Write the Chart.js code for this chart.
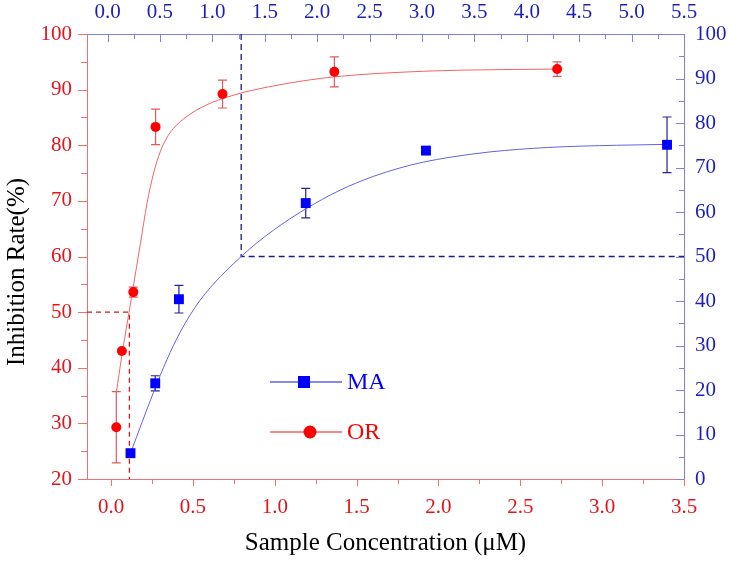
<!DOCTYPE html>
<html>
<head>
<meta charset="utf-8">
<script src="https://cdn.jsdelivr.net/npm/chart.js@4.4.1/dist/chart.umd.min.js"></script>
<style>
  html, body { margin: 0; padding: 0; background: #fff; }
  #wrap { width: 729px; height: 563px; }
</style>
</head>
<body>
<div id="wrap"><canvas id="chart"></canvas></div>
<script>
// OR: bottom (µM) / left (%) axes
const orConc = [0.032, 0.066, 0.136, 0.272, 0.681, 1.364, 2.725];
const orRate = [29.3, 43.0, 53.6, 83.3, 89.2, 93.2, 93.7];
const orErr = [6.4, 0, 0.9, 3.2, 2.5, 2.7, 1.3];

// MA: top / right axes
const maConc = [0.219, 0.455, 0.681, 1.891, 3.038, 5.338];
const maRate = [5.8, 21.5, 40.4, 62.0, 73.8, 75.1];
const maErr = [0, 1.7, 3.1, 3.3, 0, 6.25];

// fitted curves
const orFitX = [0.032, 0.065, 0.110, 0.136, 0.179, 0.220, 0.260, 0.300, 0.340, 0.380, 0.464, 0.586, 0.748, 0.850, 1.074, 1.364, 1.907, 2.375, 2.725];
const orFitY = [35.5, 42.0, 50.0, 54.6, 62.3, 69.6, 75.0, 78.8, 81.3, 83.0, 85.2, 87.3, 89.0, 89.8, 91.1, 92.3, 93.3, 93.6, 93.7];
const maFitX = [0.219, 0.439, 0.566, 0.693, 0.884, 1.275, 1.582, 1.891, 2.218, 2.536, 2.790, 3.012, 3.267, 3.648, 4.200, 4.856, 5.338];
const maFitY = [5.8, 19.5, 26.8, 33.0, 40.2, 50.0, 55.9, 60.7, 64.9, 68.0, 69.9, 71.2, 72.3, 73.5, 74.5, 75.0, 75.2];

// half-inhibition guides
const orIC50 = 0.112;
const maIC50 = 1.275;

// axes
const bottomRange = [-0.147, 3.5];
const topRange = [-0.196, 5.5];
const leftRange = [20, 100];
const rightRange = [0, 100];
const bottomTicks = [0, 0.5, 1, 1.5, 2, 2.5, 3, 3.5];
const topTicks = [0, 0.5, 1, 1.5, 2, 2.5, 3, 3.5, 4, 4.5, 5, 5.5];
const leftTicks = [20, 30, 40, 50, 60, 70, 80, 90, 100];
const rightTicks = [0, 10, 20, 30, 40, 50, 60, 70, 80, 90, 100];

const RED = '#ff0000', RED_TXT = '#e3141b', RED_AXIS = '#e87373', RED_LINE = '#f06464';
const BLUE = '#0000ff', BLUE_TXT = '#1e1eb8', BLUE_AXIS = '#8080e0', BLUE_LINE = '#6262e4';
const FONT = "'Liberation Serif', 'Times New Roman', serif";

const pts = (xs, ys) => xs.map((x, i) => ({ x: x, y: ys[i] }));

// error bars under the markers
const errorBars = {
  id: 'errorBars',
  beforeDatasetsDraw(chart) {
    const ctx = chart.ctx;
    const sets = [
      { xs: orConc, ys: orRate, es: orErr, sx: chart.scales.x, sy: chart.scales.y, color: '#e45858' },
      { xs: maConc, ys: maRate, es: maErr, sx: chart.scales.x2, sy: chart.scales.y2, color: '#22229a' }
    ];
    ctx.save();
    ctx.lineWidth = 1.2;
    sets.forEach(s => {
      ctx.strokeStyle = s.color;
      s.xs.forEach((x, i) => {
        if (!s.es[i]) return;
        const px = s.sx.getPixelForValue(x);
        const top = s.sy.getPixelForValue(s.ys[i] + s.es[i]);
        const bot = s.sy.getPixelForValue(s.ys[i] - s.es[i]);
        ctx.beginPath();
        ctx.moveTo(px, top); ctx.lineTo(px, bot);
        ctx.moveTo(px - 4.5, top); ctx.lineTo(px + 4.5, top);
        ctx.moveTo(px - 4.5, bot); ctx.lineTo(px + 4.5, bot);
        ctx.stroke();
      });
    });
    ctx.restore();
  }
};

// Origin-style major/minor tick marks
function marks(ctx, scale, from, to, step, major, side, len, minorLen) {
  const a = scale.chart.chartArea;
  for (let v = from; v <= to + 1e-9; v += step) {
    const isMajor = Math.abs(v / major - Math.round(v / major)) < 1e-6;
    const l = isMajor ? len : minorLen;
    const p = Math.round(scale.getPixelForValue(v)) + 0.5;
    ctx.beginPath();
    if (side === 'left') { ctx.moveTo(a.left - l, p); ctx.lineTo(a.left, p); }
    if (side === 'right') { ctx.moveTo(a.right - l, p); ctx.lineTo(a.right, p); }
    if (side === 'bottom') { ctx.moveTo(p, a.bottom); ctx.lineTo(p, a.bottom + l); }
    if (side === 'top') { ctx.moveTo(p, a.top); ctx.lineTo(p, a.top + l); }
    ctx.stroke();
  }
}

const tickMarks = {
  id: 'tickMarks',
  afterDraw(chart) {
    const ctx = chart.ctx, s = chart.scales;
    ctx.save();
    ctx.lineWidth = 1;
    ctx.strokeStyle = RED_AXIS;
    marks(ctx, s.y, 20, 100, 5, 10, 'left', 9, 6);
    marks(ctx, s.x, 0, 3.5, 0.25, 0.5, 'bottom', 7, 5);
    ctx.strokeStyle = BLUE_AXIS;
    marks(ctx, s.y2, 0, 100, 5, 10, 'right', 8, 5);
    marks(ctx, s.x2, 0, 5.5, 0.25, 0.5, 'top', 8, 5);

    // y title, a little below the axis centre as in the original
    ctx.fillStyle = '#000';
    ctx.font = '25px ' + FONT;
    ctx.textAlign = 'center';
    ctx.textBaseline = 'middle';
    ctx.translate(17, 272);
    ctx.rotate(-Math.PI / 2);
    ctx.fillText('Inhibition Rate(%)', 0, 0);
    ctx.restore();
  }
};

// legend drawn inside the plot
const innerLegend = {
  id: 'innerLegend',
  afterDatasetsDraw(chart) {
    const ctx = chart.ctx;
    const rows = [
      { ds: chart.data.datasets[1], y: 382, line: BLUE_LINE, txt: BLUE },
      { ds: chart.data.datasets[0], y: 432, line: RED_LINE, txt: RED }
    ];
    ctx.save();
    rows.forEach((r, i) => {
      ctx.strokeStyle = r.line;
      ctx.lineWidth = 1.3;
      ctx.beginPath();
      ctx.moveTo(270, r.y); ctx.lineTo(342, r.y);
      ctx.stroke();
      ctx.fillStyle = r.ds.backgroundColor;
      if (i === 0) ctx.fillRect(298, r.y - 6, 12, 12);
      else { ctx.beginPath(); ctx.arc(310, r.y, 6.5, 0, Math.PI * 2); ctx.fill(); }
      ctx.fillStyle = r.txt;
      ctx.font = '24px ' + FONT;
      ctx.textAlign = 'left';
      ctx.textBaseline = 'middle';
      ctx.fillText(r.ds.label, 347, r.y + 1);
    });
    ctx.restore();
  }
};

function fixBox(size, key) {
  return sc => {
    sc[key] = size;
    sc.paddingLeft = sc.paddingRight = sc.paddingTop = sc.paddingBottom = 0;
  };
}

function axis(pos, range, ticks, color, borderColor, size, pad, fmt) {
  const horiz = pos === 'top' || pos === 'bottom';
  return {
    type: 'linear',
    position: pos,
    min: range[0],
    max: range[1],
    afterBuildTicks: sc => { sc.ticks = ticks.map(v => ({ value: v })); },
    afterFit: fixBox(size, horiz ? 'height' : 'width'),
    grid: { display: false, drawTicks: false },
    border: { display: true, color: borderColor, width: 1 },
    ticks: {
      color: color,
      padding: pad,
      autoSkip: false,
      maxRotation: 0,
      font: { family: FONT, size: 21 },
      callback: fmt
    }
  };
}

const xBottom = axis('bottom', bottomRange, bottomTicks, RED_TXT, RED_AXIS, 84, 16, v => v.toFixed(1));
xBottom.title = {
  display: true,
  text: 'Sample Concentration (μM)',
  color: '#000',
  font: { family: FONT, size: 25 },
  padding: { top: 0, bottom: 5 }
};

new Chart(document.getElementById('chart'), {
  type: 'scatter',
  data: {
    datasets: [
      {
        label: 'OR', data: pts(orConc, orRate), xAxisID: 'x', yAxisID: 'y',
        backgroundColor: RED, borderColor: RED, pointStyle: 'circle', pointRadius: 5, borderWidth: 0, order: 0
      },
      {
        label: 'MA', data: pts(maConc, maRate), xAxisID: 'x2', yAxisID: 'y2',
        backgroundColor: BLUE, borderColor: BLUE, pointStyle: 'rect', pointRadius: 7, borderWidth: 0, order: 0
      },
      {
        label: 'OR fit', data: pts(orFitX, orFitY), xAxisID: 'x', yAxisID: 'y', showLine: true,
        borderColor: RED_LINE, borderWidth: 1, pointRadius: 0, cubicInterpolationMode: 'monotone', order: 2
      },
      {
        label: 'MA fit', data: pts(maFitX, maFitY), xAxisID: 'x2', yAxisID: 'y2', showLine: true,
        borderColor: BLUE_LINE, borderWidth: 1, pointRadius: 0, cubicInterpolationMode: 'monotone', order: 2
      },
      {
        label: 'OR half', data: [{ x: bottomRange[0], y: 50 }, { x: orIC50, y: 50 }, { x: orIC50, y: leftRange[0] }],
        xAxisID: 'x', yAxisID: 'y', showLine: true, borderColor: '#c81e1e', borderWidth: 1.3,
        borderDash: [5, 4], pointRadius: 0, order: 3
      },
      {
        label: 'MA half', data: [{ x: maIC50, y: rightRange[1] }, { x: maIC50, y: 50 }, { x: topRange[1], y: 50 }],
        xAxisID: 'x2', yAxisID: 'y2', showLine: true, borderColor: '#1c1c8c', borderWidth: 1.3,
        borderDash: [6, 4], pointRadius: 0, order: 3
      }
    ]
  },
  options: {
    responsive: true,
    maintainAspectRatio: false,
    animation: false,
    layout: { padding: 0 },
    plugins: { legend: { display: false }, tooltip: { enabled: false } },
    scales: {
      x: xBottom,
      x2: axis('top', topRange, topTicks, BLUE_TXT, BLUE_AXIS, 34, 9, v => v.toFixed(1)),
      y: axis('left', leftRange, leftTicks, RED_TXT, RED_AXIS, 87, 15, v => v),
      y2: axis('right', rightRange, rightTicks, BLUE_TXT, BLUE_AXIS, 45, 11, v => v)
    }
  },
  plugins: [errorBars, tickMarks, innerLegend]
});
</script>
</body>
</html>
